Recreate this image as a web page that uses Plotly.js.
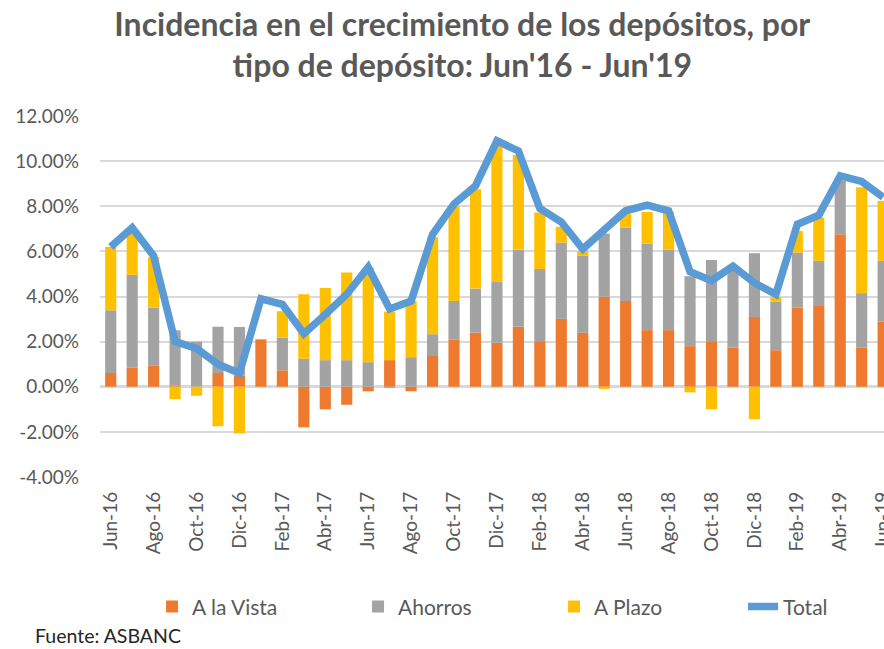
<!DOCTYPE html>
<html>
<head>
<meta charset="utf-8">
<script src="https://cdn.plot.ly/plotly-3.0.1.min.js"></script>
<style>
  html, body { margin: 0; padding: 0; background: #ffffff; overflow: hidden; }
  #chart { width: 884px; height: 649px; }
</style>
</head>
<body>
<div id="chart"></div>
<script>
// ---- Data (percent) ----
const months = [
  "Jun-16","Jul-16","Ago-16","Sep-16","Oct-16","Nov-16","Dic-16",
  "Ene-17","Feb-17","Mar-17","Abr-17","May-17","Jun-17","Jul-17","Ago-17","Sep-17","Oct-17","Nov-17","Dic-17",
  "Ene-18","Feb-18","Mar-18","Abr-18","May-18","Jun-18","Jul-18","Ago-18","Sep-18","Oct-18","Nov-18","Dic-18",
  "Ene-19","Feb-19","Mar-19","Abr-19","May-19","Jun-19"
];
const aLaVista = [
  0.61, 0.84, 0.95, 0.05, 0.00, 0.61, 0.50,
  2.10, 0.73, -1.80, -1.00, -0.80, -0.20, 1.18, -0.20, 1.40, 2.10, 2.40, 1.95,
  2.66, 2.02, 3.01, 2.39, 3.99, 3.80, 2.51, 2.51, 1.80, 2.02, 1.73, 3.09,
  1.62, 3.50, 3.58, 6.76, 1.73, 2.88
];
const ahorros = [
  2.78, 4.12, 2.55, 2.45, 2.00, 2.05, 2.15,
  0.00, 1.44, 1.24, 1.18, 1.18, 1.09, -0.05, 1.31, 0.93, 1.70, 1.95, 2.69,
  3.41, 3.20, 3.38, 3.41, 2.80, 3.26, 3.84, 3.56, 3.10, 3.60, 3.50, 2.83,
  2.15, 2.45, 2.00, 2.37, 2.42, 2.70
];
const aPlazo = [
  2.81, 2.04, 2.25, -0.55, -0.40, -1.75, -2.07,
  0.00, 1.18, 2.86, 3.20, 3.88, 4.20, 2.15, 2.50, 4.30, 4.20, 4.40, 6.10,
  4.20, 2.50, 0.70, 0.20, -0.10, 0.60, 1.40, 1.70, -0.25, -1.00, 0.00, -1.44,
  0.20, 0.95, 1.92, 0.10, 4.69, 2.66
];
const total = [
  6.20, 7.05, 5.80, 2.00, 1.70, 1.00, 0.60,
  3.90, 3.65, 2.35, 3.20, 4.10, 5.30, 3.45, 3.80, 6.75, 8.10, 8.90, 10.90,
  10.45, 7.90, 7.30, 6.10, 6.90, 7.80, 8.05, 7.80, 5.10, 4.70, 5.35, 4.60,
  4.10, 7.20, 7.60, 9.35, 9.10, 8.40
];
const seriesNames = ["A la Vista", "Ahorros", "A Plazo", "Total"];
const yTickVals = [-4, -2, 0, 2, 4, 6, 8, 10, 12];
const yTickLabels = ["-4.00%", "-2.00%", "0.00%", "2.00%", "4.00%", "6.00%", "8.00%", "10.00%", "12.00%"];
const xTickVals = months.filter((m, i) => i % 2 === 0);
const titleText = "Incidencia en el crecimiento de los depósitos, por<br>tipo de depósito: Jun'16 - Jun'19";
const sourceText = "Fuente: ASBANC";

const FONT = "Lato, 'Open Sans', 'DejaVu Sans', sans-serif";
const TXT = "#595959";

const traces = [
  { type: "bar", name: seriesNames[0], x: months, y: aLaVista, marker: { color: "#EE7A2F" }, legendwidth: 161 },
  { type: "bar", name: seriesNames[1], x: months, y: ahorros,  marker: { color: "#A3A3A3" }, legendwidth: 151 },
  { type: "bar", name: seriesNames[2], x: months, y: aPlazo,   marker: { color: "#FFC000" }, legendwidth: 144 },
  { type: "scatter", mode: "lines", name: seriesNames[3], x: months, y: total,
    line: { color: "#5B9BD5", width: 7.5 }, legendwidth: 60 }
];

const layout = {
  width: 884, height: 649,
  paper_bgcolor: "#ffffff", plot_bgcolor: "#ffffff",
  barmode: "relative", bargap: 0.48,
  margin: { l: 100, r: 0, t: 116, b: 172 },
  font: { family: FONT, color: TXT, size: 19 },
  title: {
    text: titleText,
    font: { family: FONT, size: 32, color: TXT, weight: 700 },
    xref: "container", x: 0.523, xanchor: "center",
    yref: "container", y: 0.945, yanchor: "top"
  },
  xaxis: {
    type: "category",
    range: [-0.5, 36.04],
    tickmode: "array", tickvals: xTickVals, ticktext: xTickVals,
    tickangle: -90,
    tickfont: { family: FONT, size: 19, color: TXT },
    showgrid: false, zeroline: false, showline: false,
    ticks: "", ticklabelstandoff: 10
  },
  yaxis: {
    range: [-4, 12],
    tickmode: "array", tickvals: yTickVals, ticktext: yTickLabels,
    tickfont: { family: FONT, size: 19, color: TXT },
    showgrid: true, gridcolor: "#D9D9D9", gridwidth: 2,
    zeroline: true, zerolinecolor: "#D9D9D9", zerolinewidth: 3,
    showline: false, ticks: "", ticklabelstandoff: 20
  },
  legend: {
    orientation: "h",
    xref: "container", yref: "container",
    x: 0.172, xanchor: "left",
    y: 0.065, yanchor: "middle",
    font: { family: FONT, size: 21, color: TXT },
    traceorder: "normal"
  },
  annotations: [{
    text: sourceText, showarrow: false,
    xref: "paper", yref: "paper",
    x: -0.085, y: -0.44, xanchor: "left", yanchor: "middle",
    font: { family: FONT, size: 19.5, color: "#262626" }
  }]
};

Plotly.newPlot("chart", traces, layout, { displayModeBar: false, staticPlot: true });
</script>
</body>
</html>
